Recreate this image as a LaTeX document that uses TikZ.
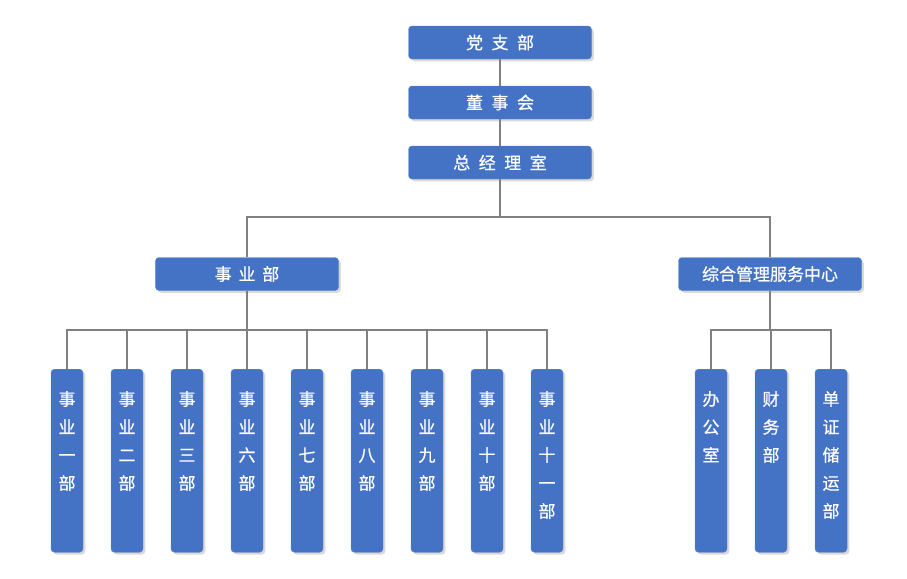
\documentclass[tikz,border=0pt]{standalone}
\usepackage{fontspec}
\setmainfont{Noto Sans CJK SC}[FakeBold=0.6,AutoFakeBold=0.6]
\usetikzlibrary{shadows}
\definecolor{boxblue}{RGB}{68,114,196}
\definecolor{linegray}{RGB}{128,128,128}
\tikzset{
  hbox/.style={draw=boxblue!85!white, fill=boxblue, rounded corners=3pt,
    minimum width=5.49cm, minimum height=0.99cm, inner sep=0pt, text=white,
    font={\fontsize{14.5pt}{17pt}\selectfont\bfseries},
    drop shadow={shadow xshift=0.07cm, shadow yshift=-0.07cm, opacity=0.3}},
  vbox/.style={hbox, minimum width=0.96cm, minimum height=5.49cm, anchor=north},
  vtext/.style={anchor=north, yshift=-0.66cm, align=center, inner sep=0pt,
    text=white, font={\fontsize{14.5pt}{23.9pt}\selectfont\bfseries}},
  link/.style={draw=linegray, line width=1.6pt}
}
\begin{document}
\begin{tikzpicture}[x=0.03cm,y=-0.03cm]
  \useasboundingbox (0,0) rectangle (907,578);
  \draw
    (500,42.5) node[hbox] (dzb) {党\hspace{0.5em}支\hspace{0.5em}部}
    (500,102.5) node[hbox] (dsh) {董\hspace{0.5em}事\hspace{0.5em}会}
    (500,162.5) node[hbox] (zjl) {总\hspace{0.5em}经\hspace{0.5em}理\hspace{0.5em}室}
    (247,274) node[hbox] (syb) {事\hspace{0.4em}业\hspace{0.4em}部}
    (770,274) node[hbox] (zh) {综合管理服务中心};
  \draw
    (67,369) node[vbox,label={[vtext]north:事\\业\\一\\部}] (b1) {}
    (127,369) node[vbox,label={[vtext]north:事\\业\\二\\部}] (b2) {}
    (187,369) node[vbox,label={[vtext]north:事\\业\\三\\部}] (b3) {}
    (247,369) node[vbox,label={[vtext]north:事\\业\\六\\部}] (b4) {}
    (307,369) node[vbox,label={[vtext]north:事\\业\\七\\部}] (b5) {}
    (367,369) node[vbox,label={[vtext]north:事\\业\\八\\部}] (b6) {}
    (427,369) node[vbox,label={[vtext]north:事\\业\\九\\部}] (b7) {}
    (487,369) node[vbox,label={[vtext]north:事\\业\\十\\部}] (b8) {}
    (547,369) node[vbox,label={[vtext]north:事\\业\\十\\一\\部}] (b9) {}
    (711,369) node[vbox,label={[vtext]north:办\\公\\室}] (c1) {}
    (771,369) node[vbox,label={[vtext]north:财\\务\\部}] (c2) {}
    (831,369) node[vbox,label={[vtext]north:单\\证\\储\\运\\部}] (c3) {};
  \begin{scope}[link]
    \draw (dzb) -- (dsh);
    \draw (dsh) -- (zjl);
    \draw (zjl.south) -- ++(0,38) -| (syb.north);
    \draw (zjl.south) -- ++(0,38) -| (zh.north);
    \foreach \n in {1,...,9}
      \draw (syb.south) -- ++(0,39) -| (b\n.north);
    \foreach \n in {1,2,3}
      \draw (zh.south) -- ++(0,39) -| (c\n.north);
  \end{scope}
\end{tikzpicture}
\end{document}
